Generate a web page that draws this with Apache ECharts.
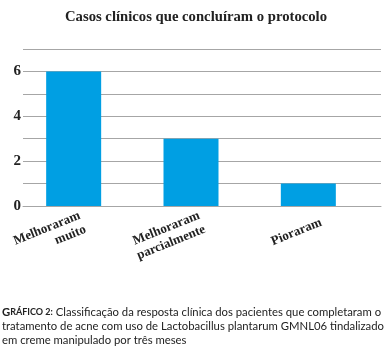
<!DOCTYPE html>
<html>
<head>
<meta charset="utf-8">
<script src="https://cdn.jsdelivr.net/npm/echarts@6/dist/echarts.min.js"></script>
<style>
  html, body { margin: 0; padding: 0; background: #fff; }
  #chart { width: 392px; height: 351px; }
</style>
</head>
<body>
<div id="chart"></div>
<script>
// dados do gráfico
var categorias = ['Melhoraram\nmuito', 'Melhoraram\nparcialmente', 'Pioraram'];
var casos = [6, 3, 1];
var rotulosY = [0, 2, 4, 6];

var chart = echarts.init(document.getElementById('chart'));
var serif = '"Liberation Serif", "DejaVu Serif", serif';
var sans = 'Lato, "Open Sans", sans-serif';

var rotuloX = {
	fontFamily: serif,
	fontWeight: 'bold',
	fontSize: 13,
	lineHeight: 15,
	color: '#222',
	align: 'right'
};

var option = {
	animation: false,
	title: {
		text: 'Casos clínicos que concluíram o protocolo',
		left: 'center',
		top: 5,
		textStyle: {
			fontFamily: serif,
			fontWeight: 'bold',
			fontSize: 14.7,
			color: '#222'
		}
	},
	// grid 0: linhas e rótulos; grid 1: barras
	grid: [
		{ left: 23, right: 11, top: 49, bottom: 145, outerBoundsMode: 'none' },
		{ left: 15, right: 25, top: 49, bottom: 145, outerBoundsMode: 'none' }
	],
	xAxis: [{
		type: 'category',
		gridIndex: 0,
		data: categorias,
		axisTick: { show: false },
		axisLine: { lineStyle: { color: '#a6a6a6', width: 1 } },
		axisLabel: {
			rotate: 22,
			interval: 0,
			margin: 16,
			align: 'right',
			fontFamily: serif,
			fontWeight: 'bold',
			fontSize: 13,
			lineHeight: 15,
			color: '#222',
			formatter: function(v) {
				return v.split('\n').map(function(l) { return '{a|' + l + '}'; }).join('\n');
			},
			rich: { a: rotuloX }
		}
	}, {
		type: 'category',
		gridIndex: 1,
		data: categorias,
		show: false
	}],
	yAxis: [{
		type: 'value',
		gridIndex: 0,
		min: 0,
		max: 7,
		interval: 1,
		axisLine: { show: false },
		axisTick: { show: false },
		splitLine: { lineStyle: { color: '#a6a6a6', width: 1 } },
		axisLabel: {
			margin: 2,
			padding: [5, 0, 0, 0],
			fontFamily: serif,
			fontWeight: 'bold',
			fontSize: 15,
			color: '#222',
			formatter: function(v) {
				return rotulosY.indexOf(v) >= 0 ? String(v) : '';
			}
		}
	}, {
		type: 'value',
		gridIndex: 1,
		min: 0,
		max: 7,
		interval: 1,
		show: false,
		splitLine: { show: false }
	}],
	series: [{
		type: 'bar',
		xAxisIndex: 1,
		yAxisIndex: 1,
		data: casos,
		barWidth: 55,
		itemStyle: { color: '#009fe3' }
	}],
	graphic: [{
		type: 'text',
		left: 2,
		top: 305,
		style: {
			text: '{b|G}{s|RÁFICO 2:} Classificação da resposta clínica dos pacientes que completaram o\ntratamento de acne com uso de Lactobacillus plantarum GMNL06 tindalizado\nem creme manipulado por três meses',
			fontFamily: sans,
			fontSize: 11.3,
			lineHeight: 14,
			fill: '#222',
			rich: {
				b: { fontFamily: sans, fontWeight: 'bold', fontSize: 11.3, fill: '#222' },
				s: { fontFamily: sans, fontWeight: 'bold', fontSize: 9, fill: '#222' }
			}
		}
	}]
};
chart.setOption(option);
</script>
</body>
</html>
